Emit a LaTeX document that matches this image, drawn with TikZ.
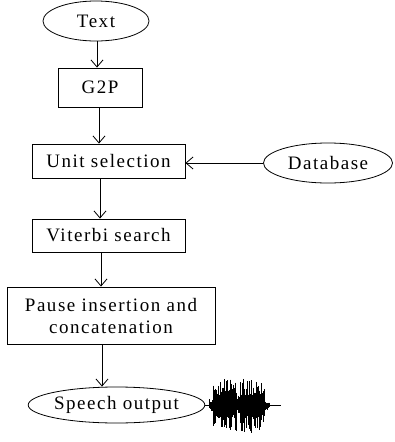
\documentclass[tikz,border=0pt]{standalone}
\usepackage{fontspec}
\setmainfont[LetterSpace=8]{Liberation Serif}
\usetikzlibrary{shapes.geometric,arrows.meta}
\tikzset{
  every node/.style={font=\fontsize{19}{22}\selectfont, inner sep=0pt, align=center},
  stepbox/.style={draw, line width=0.9pt, rectangle},
  oval/.style={draw, line width=0.8pt, ellipse},
  arr/.style={line width=0.9pt, -{Straight Barb[length=7pt, width=12pt, line width=0.8pt]}}
}
\begin{document}
\begin{tikzpicture}[x=1pt,y=-1pt]
\useasboundingbox (0,0) rectangle (394,442);
\node[oval, minimum width=106, minimum height=40] (text) at (96,21) {Text};
\node[stepbox, minimum width=84, minimum height=39] (g2p) at (100,87.5) {G2P};
\node[stepbox, minimum width=153, minimum height=34] (unit) at (108.5,161) {Unit selection};
\node[oval, minimum width=129, minimum height=40] (db) at (328,163) {Database};
\node[stepbox, minimum width=153, minimum height=33] (vit) at (108.5,235.5) {Viterbi search};
\node[stepbox, minimum width=208, minimum height=57] (pause) at (111,315.5) {Pause insertion and\\concatenation};
\node[oval, minimum width=175, minimum height=36] (speech) at (116.5,405) {Speech output};
\draw[arr] ([xshift=1]text.south) -- ([xshift=1]text.south |- g2p.north);
\draw[arr] ([xshift=-1]g2p.south) -- ([xshift=-1]g2p.south |- unit.north);
\draw[arr] ([xshift=-8.5]unit.south) -- ([xshift=-8.5]unit.south |- vit.north);
\draw[arr] ([xshift=-7.5]vit.south) -- ([xshift=-7.5]vit.south |- pause.north);
\draw[arr] ([xshift=-9]pause.south) -- ([xshift=-9]pause.south |- speech.north);
\draw[arr] (db.west) -- (db.west -| unit.east);
% waveform
\coordinate (w0) at (speech.east);
\draw[line width=0.8pt] (w0) -- ++(76,0);
\pgfmathsetseed{7}
\foreach \i in {0,...,60}{
  \pgfmathsetmacro{\xx}{209+\i*1.0}
  \pgfmathsetmacro{\env}{ (\i<4) ? 6 : ((\i<28) ? 26 : ((\i<31) ? 10 : ((\i<56) ? 28 : 5))) }
  \pgfmathsetmacro{\up}{\env*(0.35+0.65*rnd)}
  \pgfmathsetmacro{\dn}{\env*(0.35+0.65*rnd)}
  \draw[line width=0.9pt] (\xx,405-\up) -- (\xx,405+\dn);
}
\end{tikzpicture}
\end{document}
